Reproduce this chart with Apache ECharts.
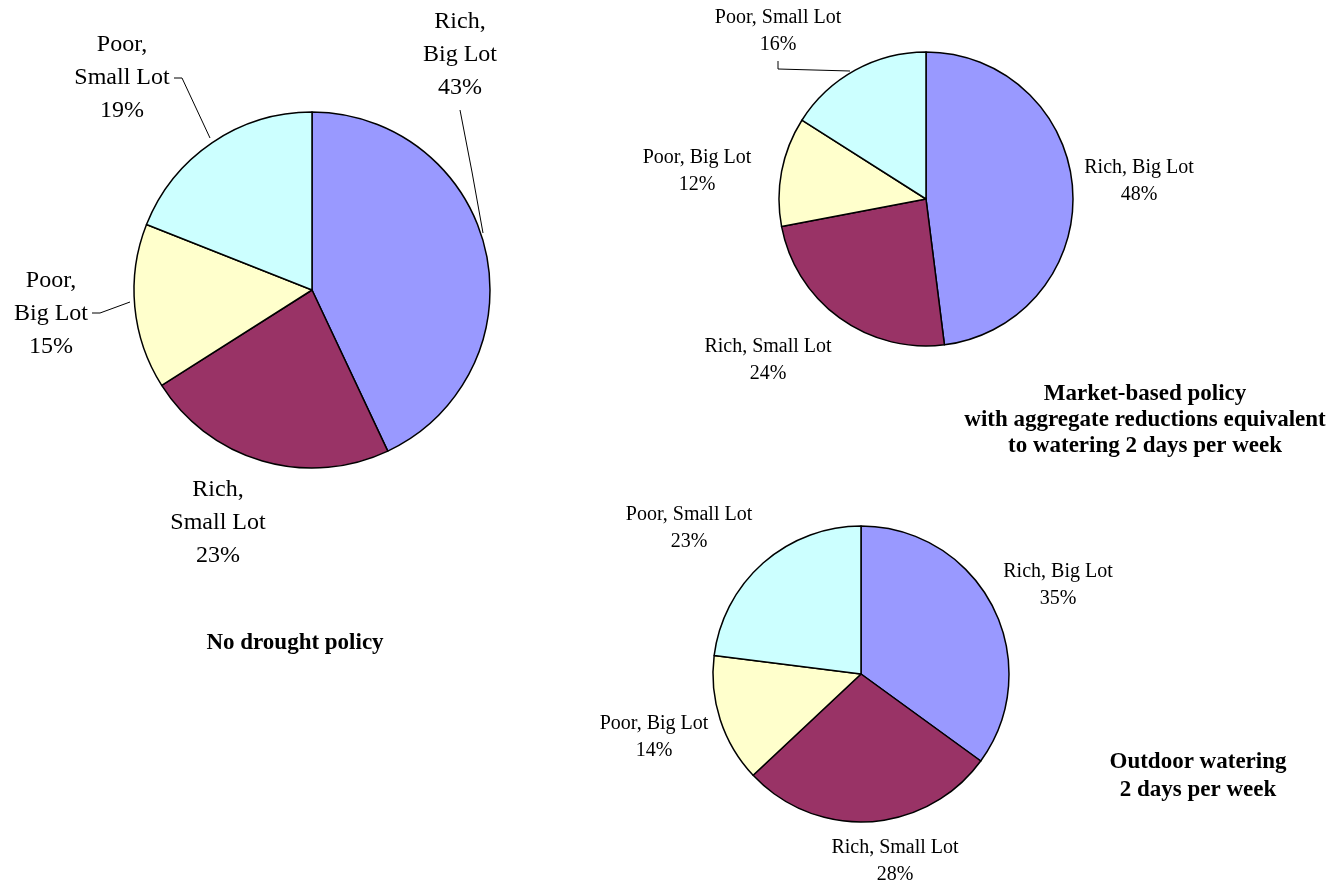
<!DOCTYPE html>
<html>
<head>
<meta charset="utf-8">
<script src="https://cdn.jsdelivr.net/npm/echarts@6/dist/echarts.min.js"></script>
<style>
    html, body { margin: 0; padding: 0; background: #fff; }
    #main { width: 1331px; height: 888px; }
</style>
</head>
<body>
<div id="main"></div>
<script>
// data (percent of water use)
var categories = ['Rich, Big Lot', 'Rich, Small Lot', 'Poor, Big Lot', 'Poor, Small Lot'];
var noDrought = [43, 23, 15, 19];
var marketBased = [48, 24, 12, 16];
var outdoorWatering = [35, 28, 14, 23];
var titles = [
    'No drought policy',
    'Market-based policy\nwith aggregate reductions equivalent\nto watering 2 days per week',
    'Outdoor watering\n2 days per week'
];

var colors = ['#9999FF', '#993366', '#FFFFCC', '#CCFFFF'];
var fontFamily = 'Liberation Serif';

// label placement (centre of each text block), like the excel layout
var labelPos = [
    [[460, 55], [218, 523], [51, 314], [122, 78]],
    [[1139, 181], [768, 360], [697, 171], [778, 31]],
    [[1058, 585], [895, 861], [654, 737], [689, 528]]
];
// leader lines, only where the original has them
var leaders = [
    { 0: [[483, 233], [472, 172], [460, 110]], 2: [[130, 302], [100, 313], [92, 313]], 3: [[210, 138], [182, 78], [174, 78]] },
    { 3: [[850, 71], [778, 69], [778, 61]] },
    {}
];

var myChart = echarts.init(document.getElementById('main'));

function makeData(values, lines) {
    return values.map(function (v, i) {
        return {
            name: categories[i],
            value: v,
            itemStyle: { color: colors[i] },
            labelLine: { show: lines[i] !== undefined }
        };
    });
}

function makePie(idx, values, center, radius, fontSize, lineHeight, splitName) {
    return {
        type: 'pie',
        center: center,
        radius: radius,
        startAngle: 90,
        clockwise: true,
        avoidLabelOverlap: false,
        silent: true,
        itemStyle: { borderColor: '#000', borderWidth: 1.5 },
        label: {
            show: true,
            position: 'outside',
            color: '#000',
            fontFamily: fontFamily,
            fontSize: fontSize,
            lineHeight: lineHeight,
            align: 'center',
            formatter: function (p) {
                var n = splitName ? p.name.replace(', ', ',\n') : p.name;
                return n + '\n' + Math.round(p.percent) + '%';
            }
        },
        labelLine: { lineStyle: { color: '#000', width: 1 } },
        labelLayout: function (params) {
            var pos = labelPos[idx][params.dataIndex];
            var res = { x: pos[0], y: pos[1], align: 'center', verticalAlign: 'middle' };
            var pts = leaders[idx][params.dataIndex];
            if (pts) res.labelLinePoints = pts;
            return res;
        },
        data: makeData(values, leaders[idx])
    };
}

function titleText(text, x, y, lh) {
    return {
        type: 'text',
        x: x,
        y: y,
        style: {
            text: text,
            fill: '#000',
            fontFamily: fontFamily,
            fontWeight: 'bold',
            fontSize: 23,
            lineHeight: lh,
            align: 'center',
            verticalAlign: 'middle'
        }
    };
}

var option = {
    backgroundColor: '#fff',
    animation: false,
    series: [
        makePie(0, noDrought, [312, 290], 178, 24, 33, true),
        makePie(1, marketBased, [926, 199], 147, 20, 27, false),
        makePie(2, outdoorWatering, [861, 674], 148, 20, 27, false)
    ],
    graphic: [
        titleText(titles[0], 295, 643, 26),
        titleText(titles[1], 1145, 420, 26),
        titleText(titles[2], 1198, 776, 28)
    ]
};

myChart.setOption(option);
</script>
</body>
</html>
